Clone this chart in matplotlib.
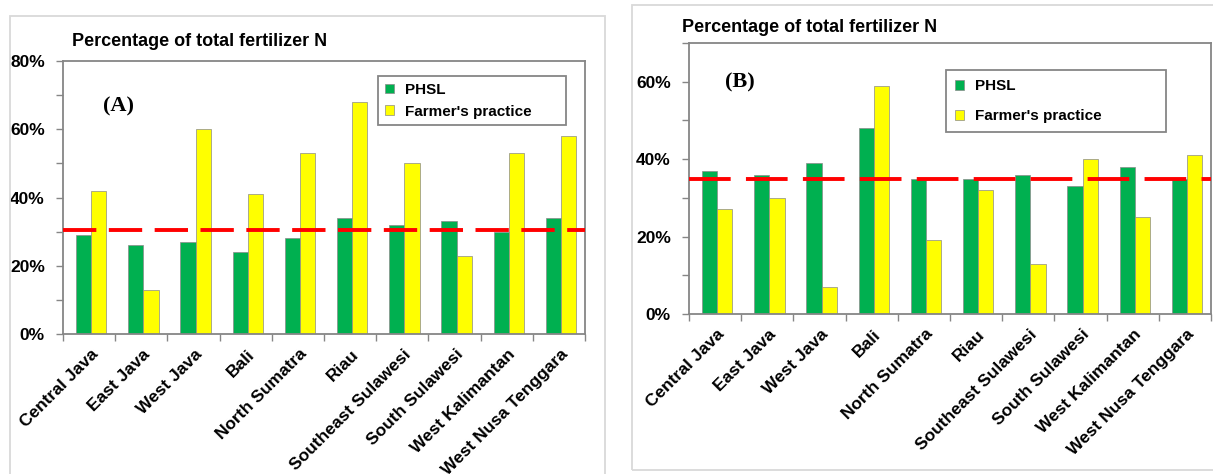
import numpy as np
import matplotlib
matplotlib.use("Agg")
import matplotlib.pyplot as plt
from matplotlib.patches import Rectangle
from matplotlib.ticker import MultipleLocator, FuncFormatter
from matplotlib.transforms import ScaledTranslation

plt.rcParams["font.family"] = ["Liberation Sans", "DejaVu Sans"]
plt.rcParams["font.weight"] = "bold"
plt.rcParams["lines.scale_dashes"] = False

# Data
regions = ["Central Java", "East Java", "West Java", "Bali", "North Sumatra",
           "Riau", "Southeast Sulawesi", "South Sulawesi", "West Kalimantan",
           "West Nusa Tenggara"]

phsl_a = [29, 26, 27, 24, 28, 34, 32, 33, 30, 34]
farmer_a = [42, 13, 60, 41, 53, 68, 50, 23, 53, 58]
ref_a = 30.5

phsl_b = [37, 36, 39, 48, 35, 35, 36, 33, 38, 35]
farmer_b = [27, 30, 7, 59, 19, 32, 13, 40, 25, 41]
ref_b = 35

series_names = ["PHSL", "Farmer's practice"]
title_text = "Percentage of total fertilizer N"

GREEN = "#00B050"
YELLOW = "#FFFF00"
SPINE = "#868686"
FRAME = "#d9d9d9"

W, H = 1213, 474
fig = plt.figure(figsize=(W / 100, H / 100), dpi=100)


def fx(px):
    return px / W


def fy(py):
    return 1 - py / H


def add_frame(l, t, r, b):
    fig.add_artist(Rectangle((fx(l), fy(b)), fx(r) - fx(l), fy(t) - fy(b),
                             transform=fig.transFigure, fill=False,
                             edgecolor=FRAME, linewidth=1.3))


def panel(box, phsl, farmer, ref, ymax, tag, tag_xy, title_xy, leg_box,
          leg_pad, leg_spacing, dash):
    l, t, r, b = box
    ax = fig.add_axes([fx(l), fy(b), fx(r) - fx(l), fy(t) - fy(b)])
    n = len(regions)
    x = np.arange(n)
    w = 0.29
    off = 0.04
    ax.bar(x - w / 2 + off, phsl, w, color=GREEN, edgecolor="#8a8a8a",
           linewidth=0.5, label=series_names[0], zorder=2)
    ax.bar(x + w / 2 + off, farmer, w, color=YELLOW, edgecolor="#8a8a8a",
           linewidth=0.5, label=series_names[1], zorder=2)
    ax.axhline(ref, color="#FF0000", linewidth=2.8, dashes=dash, zorder=3)

    ax.set_xlim(-0.5, n - 0.5)
    ax.set_ylim(0, ymax)
    ax.yaxis.set_major_locator(MultipleLocator(20))
    ax.yaxis.set_minor_locator(MultipleLocator(10))
    ax.yaxis.set_major_formatter(FuncFormatter(lambda v, p: f"{v:.0f}%"))
    ax.tick_params(axis="y", which="both", direction="out", length=5,
                   color=SPINE, width=1)
    ax.tick_params(axis="y", which="major", labelsize=12.5, pad=8)

    # category boundaries carry the tick marks, centres carry the labels
    ax.set_xticks(np.arange(n + 1) - 0.5)
    ax.set_xticklabels([])
    ax.set_xticks(x, minor=True)
    ax.set_xticklabels(regions, minor=True, rotation=45, ha="right",
                       rotation_mode="anchor", fontsize=12.5)
    ax.tick_params(axis="x", which="major", direction="out", length=5,
                   color=SPINE, width=1)
    ax.tick_params(axis="x", which="minor", length=0, pad=9)
    shift = ScaledTranslation(1 / 100, 0, fig.dpi_scale_trans)
    for lbl in ax.get_xticklabels(minor=True):
        lbl.set_transform(lbl.get_transform() + shift)

    for s in ax.spines.values():
        s.set_color(SPINE)
        s.set_linewidth(1.3)

    lx, ly, lw_, lh = leg_box
    leg = ax.legend(loc="upper left",
                    bbox_to_anchor=(fx(lx), fy(ly), fx(lx + lw_) - fx(lx), 0),
                    bbox_transform=fig.transFigure, mode="expand",
                    fancybox=False, framealpha=1, edgecolor=SPINE,
                    prop={"size": 11, "weight": "bold"},
                    handlelength=0.6, handleheight=0.6, handletextpad=0.7,
                    borderpad=leg_pad, labelspacing=leg_spacing,
                    borderaxespad=0)
    leg.get_frame().set_linewidth(1.3)

    fig.text(fx(tag_xy[0]), fy(tag_xy[1]), tag, family="Liberation Serif",
             weight="bold", fontsize=16, ha="center", va="center")
    fig.text(fx(title_xy[0]), fy(title_xy[1]), title_text, fontsize=13,
             weight="bold", ha="left", va="center")
    return ax


add_frame(10, 16, 605, 490)
add_frame(632, 5, 1240, 470)

panel((63, 61, 585, 334), phsl_a, farmer_a, ref_a, 80, "(A)", (118, 106),
      (72, 42), (378, 76, 188, 52), 0.45, 0.5, (24, 9))
panel((689, 43, 1211, 314), phsl_b, farmer_b, ref_b, 70, "(B)", (740, 82),
      (682, 27), (946, 70, 220, 62), 0.6, 1.05, (30, 11))

fig.savefig("out.png", dpi=100, facecolor="white")
